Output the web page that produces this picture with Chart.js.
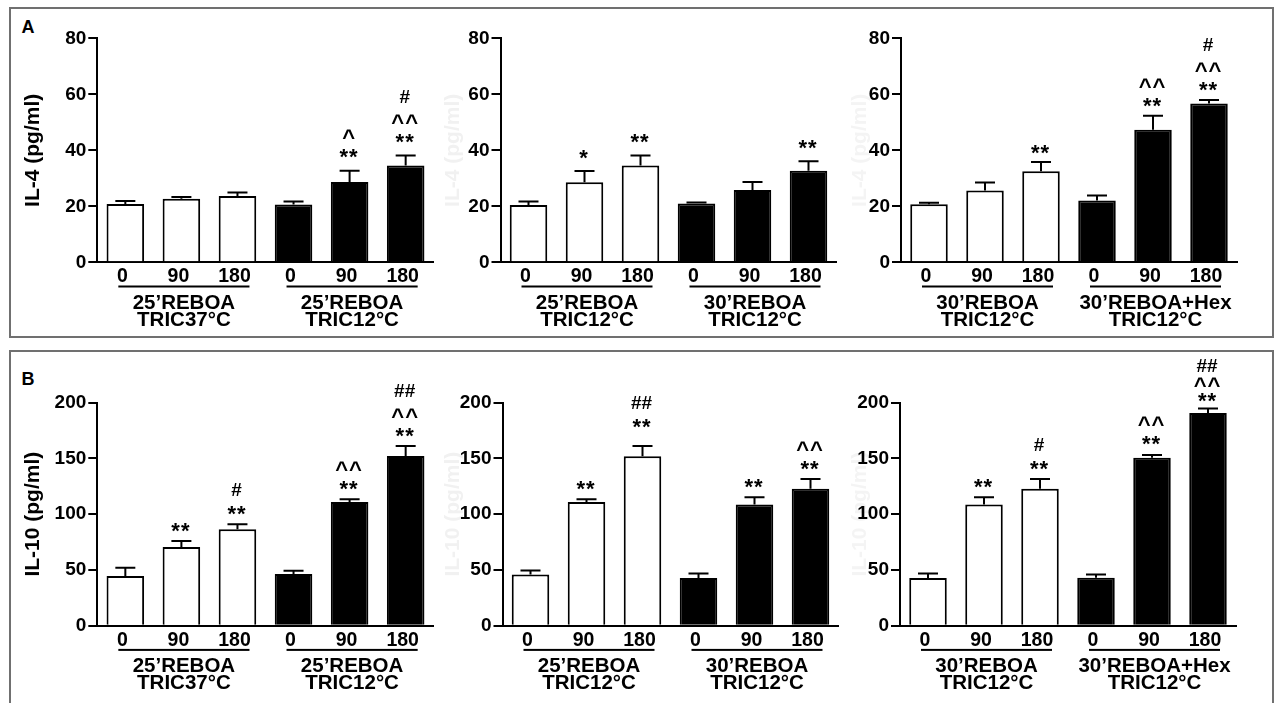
<!DOCTYPE html>
<html>
<head>
<meta charset="utf-8">
<script src="https://cdn.jsdelivr.net/npm/chart.js@4.4.0/dist/chart.umd.min.js"></script>
<style>
  html, body { margin: 0; padding: 0; background: #fff; }
  body { width: 1280px; height: 703px; position: relative; overflow: hidden; font-family: 'Liberation Sans', Arial, sans-serif; }
  .frame { position: absolute; border: 2px solid #707070; box-sizing: border-box; }
  .tag { position: absolute; font-weight: bold; font-size: 18px; line-height: normal; }
  canvas { position: absolute; }
</style>
</head>
<body>
<div class="frame" style="left:9px;top:7px;width:1265px;height:331px"></div>
<div class="frame" style="left:9px;top:350px;width:1265px;height:360px"></div>
<div class="tag" style="left:21.5px;top:16.5px">A</div>
<div class="tag" style="left:21.5px;top:369px">B</div>
<canvas id="a1"></canvas>
<canvas id="a2"></canvas>
<canvas id="a3"></canvas>
<canvas id="b1"></canvas>
<canvas id="b2"></canvas>
<canvas id="b3"></canvas>
<script>
const FONT = "'Liberation Sans', Arial, Helvetica, sans-serif";
Chart.defaults.font.family = FONT;
Chart.defaults.color = '#000';

// time points (min) under each bar
const timePoints = ['0', '90', '180', '0', '90', '180'];

// group captions under the x axis
const grp1 = [['25’REBOA', 'TRIC37°C'], ['25’REBOA', 'TRIC12°C']];
const grp2 = [['25’REBOA', 'TRIC12°C'], ['30’REBOA', 'TRIC12°C']];
const grp3 = [['30’REBOA', 'TRIC12°C'], ['30’REBOA+Hex', 'TRIC12°C']];

// IL-4 (pg/ml), mean and SEM
const il4_1_mean = [20.8, 22.7, 23.7, 20.6, 28.7, 34.6];
const il4_1_sem  = [1.1, 0.6, 1.2, 1.1, 4.0, 3.5];
const il4_2_mean = [20.5, 28.6, 34.6, 21.0, 25.8, 32.7];
const il4_2_sem  = [1.2, 4.0, 3.5, 0.4, 2.9, 3.4];
const il4_3_mean = [20.7, 25.6, 32.5, 22.1, 47.3, 56.7];
const il4_3_sem  = [0.6, 2.9, 3.3, 1.8, 5.0, 1.3];

// IL-10 (pg/ml), mean and SEM
const il10_1_mean = [44.5, 70.6, 86.4, 46.3, 110.9, 152.2];
const il10_1_sem  = [7.5, 5.3, 4.5, 3.0, 2.4, 8.9];
const il10_2_mean = [46.0, 110.9, 151.9, 42.8, 108.8, 122.9];
const il10_2_sem  = [3.6, 2.4, 9.2, 4.1, 6.3, 8.6];
const il10_3_mean = [42.8, 108.8, 122.9, 43.0, 150.7, 190.7];
const il10_3_sem  = [4.1, 6.3, 8.6, 3.0, 2.4, 4.2];

// significance marks above each bar (bottom to top)
const il4_1_marks = [[], [], [], [], ['**', '^'], ['**', '^^', '#']];
const il4_2_marks = [[], ['*'], ['**'], [], [], ['**']];
const il4_3_marks = [[], [], ['**'], [], ['**', '^^'], ['**', '^^', '#']];
const il10_1_marks = [[], ['**'], ['**', '#'], [], ['**', '^^'], ['**', '^^', '##']];
const il10_2_marks = [[], ['**'], ['**', '##'], [], ['**'], ['**', '^^']];
const il10_3_marks = [[], ['**'], ['**', '#'], [], ['**', '^^'], ['**', '^^', '##']];

// error bars, star marks and group captions
function extras(s) {
  return {
    id: 'extras',
    afterDatasetsDraw(chart) {
      const ctx = chart.ctx, xs = chart.scales.x, ys = chart.scales.y;
      ctx.save();
      ctx.strokeStyle = '#000';
      ctx.fillStyle = '#000';
      ctx.lineWidth = 2;
      ctx.textAlign = 'center';
      ctx.textBaseline = 'alphabetic';
      s.mean.forEach((m, i) => {
        const x = xs.getPixelForValue(i);
        const y0 = ys.getPixelForValue(m);
        const y1 = ys.getPixelForValue(m + s.sem[i]);
        ctx.beginPath();
        ctx.moveTo(x, y0); ctx.lineTo(x, y1);
        ctx.moveTo(x - 10, y1); ctx.lineTo(x + 10, y1);
        ctx.stroke();

        // tight stacks (little room at the top) use their own gaps
        const t = s.tight && s.tight[i];
        let c = y1 - (t ? t[0] : s.markOff) - ((s.lift && s.lift[i]) || 0);
        let prev = '';
        s.marks[i].forEach((txt, k) => {
          if (k > 0) {
            if (t) c -= t[k];
            else c -= txt[0] === '#' ? (prev[0] === '^' ? 22.5 : 20.5) : 19.5;
          }
          if (txt[0] === '#') { ctx.font = 'bold 19px ' + FONT; ctx.letterSpacing = '0px'; }
          else { ctx.font = 'bold 22px ' + FONT; ctx.letterSpacing = '1px'; }
          const mt = ctx.measureText(txt);
          const base = c + (mt.actualBoundingBoxAscent - mt.actualBoundingBoxDescent) / 2;
          ctx.fillText(txt, x - 1 + (txt[0] === '#' ? 0 : 0.5), base);
          prev = txt;
        });
      });
      ctx.restore();
    },
    afterDraw(chart) {
      const ctx = chart.ctx, xs = chart.scales.x;
      ctx.save();
      ctx.fillStyle = '#000';
      ctx.font = 'bold 20.5px ' + FONT;
      ctx.textAlign = 'center';
      ctx.textBaseline = 'alphabetic';
      s.groups.forEach((g, gi) => {
        const xa = xs.getPixelForValue(gi * 3) - 7;
        const xb = xs.getPixelForValue(gi * 3 + 2) + 12;
        const yl = xs.top + 24.2;
        ctx.fillRect(xa, yl - 1, xb - xa, 2);
        const cx = (xa + xb) / 2;
        ctx.fillText(g[0], cx, yl + 22);
        ctx.fillText(g[1], cx, yl + 39.3);
      });
      ctx.restore();
    }
  };
}

function makeChart(id, s) {
  const cv = document.getElementById(id);
  cv.width = s.w; cv.height = s.h;
  cv.style.left = s.x + 'px';
  cv.style.top = s.y + 'px';
  return new Chart(cv, {
    type: 'bar',
    data: {
      labels: timePoints,
      datasets: [{
        data: s.mean,
        backgroundColor: ['#fff', '#fff', '#fff', '#000', '#000', '#000'],
        borderColor: '#000',
        borderWidth: 2,
        barPercentage: 0.67,
        categoryPercentage: 1
      }]
    },
    options: {
      responsive: false,
      animation: false,
      devicePixelRatio: 1,
      layout: { padding: { top: s.padTop, right: s.padRight, left: 0, bottom: 0 } },
      plugins: { legend: { display: false }, tooltip: { enabled: false } },
      scales: {
        x: {
          grid: { display: false, drawTicks: false },
          border: { display: true, color: '#000', width: 2 },
          ticks: { padding: 3, labelOffset: -3, maxRotation: 0, minRotation: 0, autoSkip: false,
                   font: { size: 19.5, weight: 'bold' } },
          afterFit: sc => { sc.height = s.xAxisH; }
        },
        y: {
          min: 0,
          max: s.max,
          ticks: { stepSize: s.step, padding: 2, font: { size: 19, weight: 'bold' } },
          grid: { drawOnChartArea: false, tickLength: 9, color: '#000', lineWidth: 2 },
          border: { display: true, color: '#000', width: 2 },
          title: { display: true, text: s.title, color: s.titleColor,
                   font: { size: 21, weight: 'bold' }, padding: { top: s.titlePad, bottom: 0 } },
          afterFit: sc => { sc.width = s.yAxisW; }
        }
      }
    },
    plugins: [extras(s)]
  });
}

const rowA = { y: 10, h: 327, padTop: 28.3, xAxisH: 74.7, max: 80, step: 20, title: 'IL-4 (pg/ml)', markOff: 17 };
const rowB = { y: 353, h: 350, padTop: 49.7, xAxisH: 77.3, max: 200, step: 50, title: 'IL-10 (pg/ml)', markOff: 14 };

makeChart('a1', Object.assign({}, rowA, { x: 12, w: 428, yAxisW: 85.3, padRight: 6.3, titlePad: 8.4, titleColor: '#000',
  mean: il4_1_mean, sem: il4_1_sem, marks: il4_1_marks, groups: grp1 }));
makeChart('a2', Object.assign({}, rowA, { x: 440, w: 405, yAxisW: 60.5, padRight: 8.5, titlePad: 0.4, titleColor: '#f1f1f1',
  mean: il4_2_mean, sem: il4_2_sem, marks: il4_2_marks, groups: grp2 }));
makeChart('a3', Object.assign({}, rowA, { x: 845, w: 425, yAxisW: 56, padRight: 33, titlePad: 2.4, titleColor: '#f4f4f4',
  mean: il4_3_mean, sem: il4_3_sem, marks: il4_3_marks, groups: grp3, markOff: 13 }));

makeChart('b1', Object.assign({}, rowB, { x: 12, w: 428, yAxisW: 85.3, padRight: 6.3, titlePad: 8.4, titleColor: '#000',
  mean: il10_1_mean, sem: il10_1_sem, marks: il10_1_marks, groups: grp1 }));
makeChart('b2', Object.assign({}, rowB, { x: 440, w: 405, yAxisW: 62.5, padRight: 6.5, titlePad: 0.4, titleColor: '#f1f1f1',
  mean: il10_2_mean, sem: il10_2_sem, marks: il10_2_marks, groups: grp2, lift: [0, 0, 9, 0, 0, 0] }));
makeChart('b3', Object.assign({}, rowB, { x: 845, w: 425, yAxisW: 55, padRight: 34, titlePad: 2.4, titleColor: '#f4f4f4',
  mean: il10_3_mean, sem: il10_3_sem, marks: il10_3_marks, groups: grp3, tight: { 5: [11, 15, 17] } }));
</script>
</body>
</html>
